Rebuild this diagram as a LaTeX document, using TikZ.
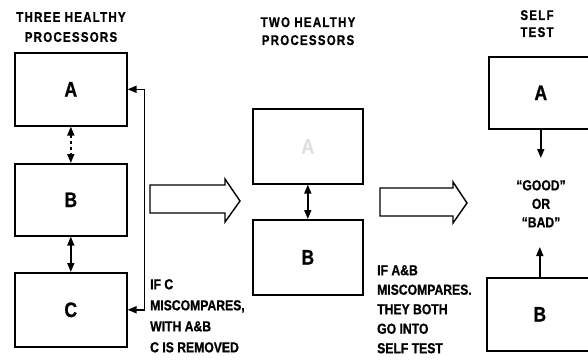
\documentclass[tikz,border=0pt]{standalone}
\usepackage{fontspec}
\newfontfamily\labfont{Liberation Sans}[FakeStretch=0.84,FakeBold=0.8]
\newfontfamily\titfont{Liberation Sans}[FakeStretch=0.82,FakeBold=0.8,LetterSpace=9]
\usetikzlibrary{arrows.meta}
\begin{document}
\begin{tikzpicture}[x=1pt,y=-1pt,
  box/.style={draw,line width=1.6pt,inner sep=0,anchor=north west,
    font=\labfont\bfseries\fontsize{21}{21}\selectfont},
  title/.style={font=\titfont\bfseries\fontsize{14}{#1}\selectfont,align=center,inner sep=0,anchor=north},
  note/.style={font=\labfont\bfseries\fontsize{14.5}{#1}\selectfont,align=left,inner sep=0,anchor=north west},
  head/.tip={Triangle[length=9pt,width=7pt]},
  conn/.style={line width=1.6pt,-head},
  bi/.style={line width=1.6pt,head-head},
  hollow/.style={draw,line width=1.4pt,fill=white,line join=miter}
]
\useasboundingbox (0,0) rectangle (588,361);

% left column
\node[title=20] (t1) at (71,12) {THREE HEALTHY\\PROCESSORS};
\node[box,minimum width=112pt,minimum height=73pt] (A1) at (14,52) {A};
\node[box,minimum width=112pt,minimum height=72pt] (B1) at (14,163) {B};
\node[box,minimum width=112pt,minimum height=74pt] (C1) at (14,272) {C};
\draw[bi,dashed] (A1.south) -- (B1.north);
\draw[bi] (B1.south) -- (C1.north);
\draw[bi] (A1.east) -- ++(17,0) |- (C1.east);
\node[note=21] (n1) at (150,279) {IF C\\MISCOMPARES,\\WITH A\&B\\C IS REMOVED};

% hollow arrow 1
\draw[hollow] (150,185) -- (225,185) -- (225,179) -- (240,201) -- (225,222) -- (225,213) -- (150,213) -- cycle;

% middle column
\node[title=18] (t2) at (308,17) {TWO HEALTHY\\PROCESSORS};
\node[box,minimum width=110pt,minimum height=75pt,text=black!12] (A2) at (252,108) {A};
\node[box,minimum width=110pt,minimum height=75pt] (B2) at (252,219) {B};
\draw[bi] (A2.south) -- (B2.north);
\node[note=19.5] (n2) at (377,265) {IF A\&B\\MISCOMPARES.\\THEY BOTH\\GO INTO\\SELF TEST};

% hollow arrow 2
\draw[hollow] (380,188) -- (453,188) -- (453,182) -- (467,203) -- (453,223) -- (453,216) -- (380,216) -- cycle;

% right column
\node[title=17] (t3) at (537,10) {SELF\\TEST};
\node[box,minimum width=104pt,minimum height=72pt] (A3) at (488,56) {A};
\node[box,minimum width=106pt,minimum height=73pt] (B3) at (486,277) {B};
\node[note=18.5,align=center,anchor=north] (gb) at (541,180) {“GOOD”\\OR\\“BAD”};
\coordinate (ga) at (A3.south |- 0,158);
\coordinate (gbb) at (B3.north |- 0,247);
\draw[conn] (A3.south) -- (ga);
\draw[conn] (B3.north) -- (gbb);
\end{tikzpicture}
\end{document}
